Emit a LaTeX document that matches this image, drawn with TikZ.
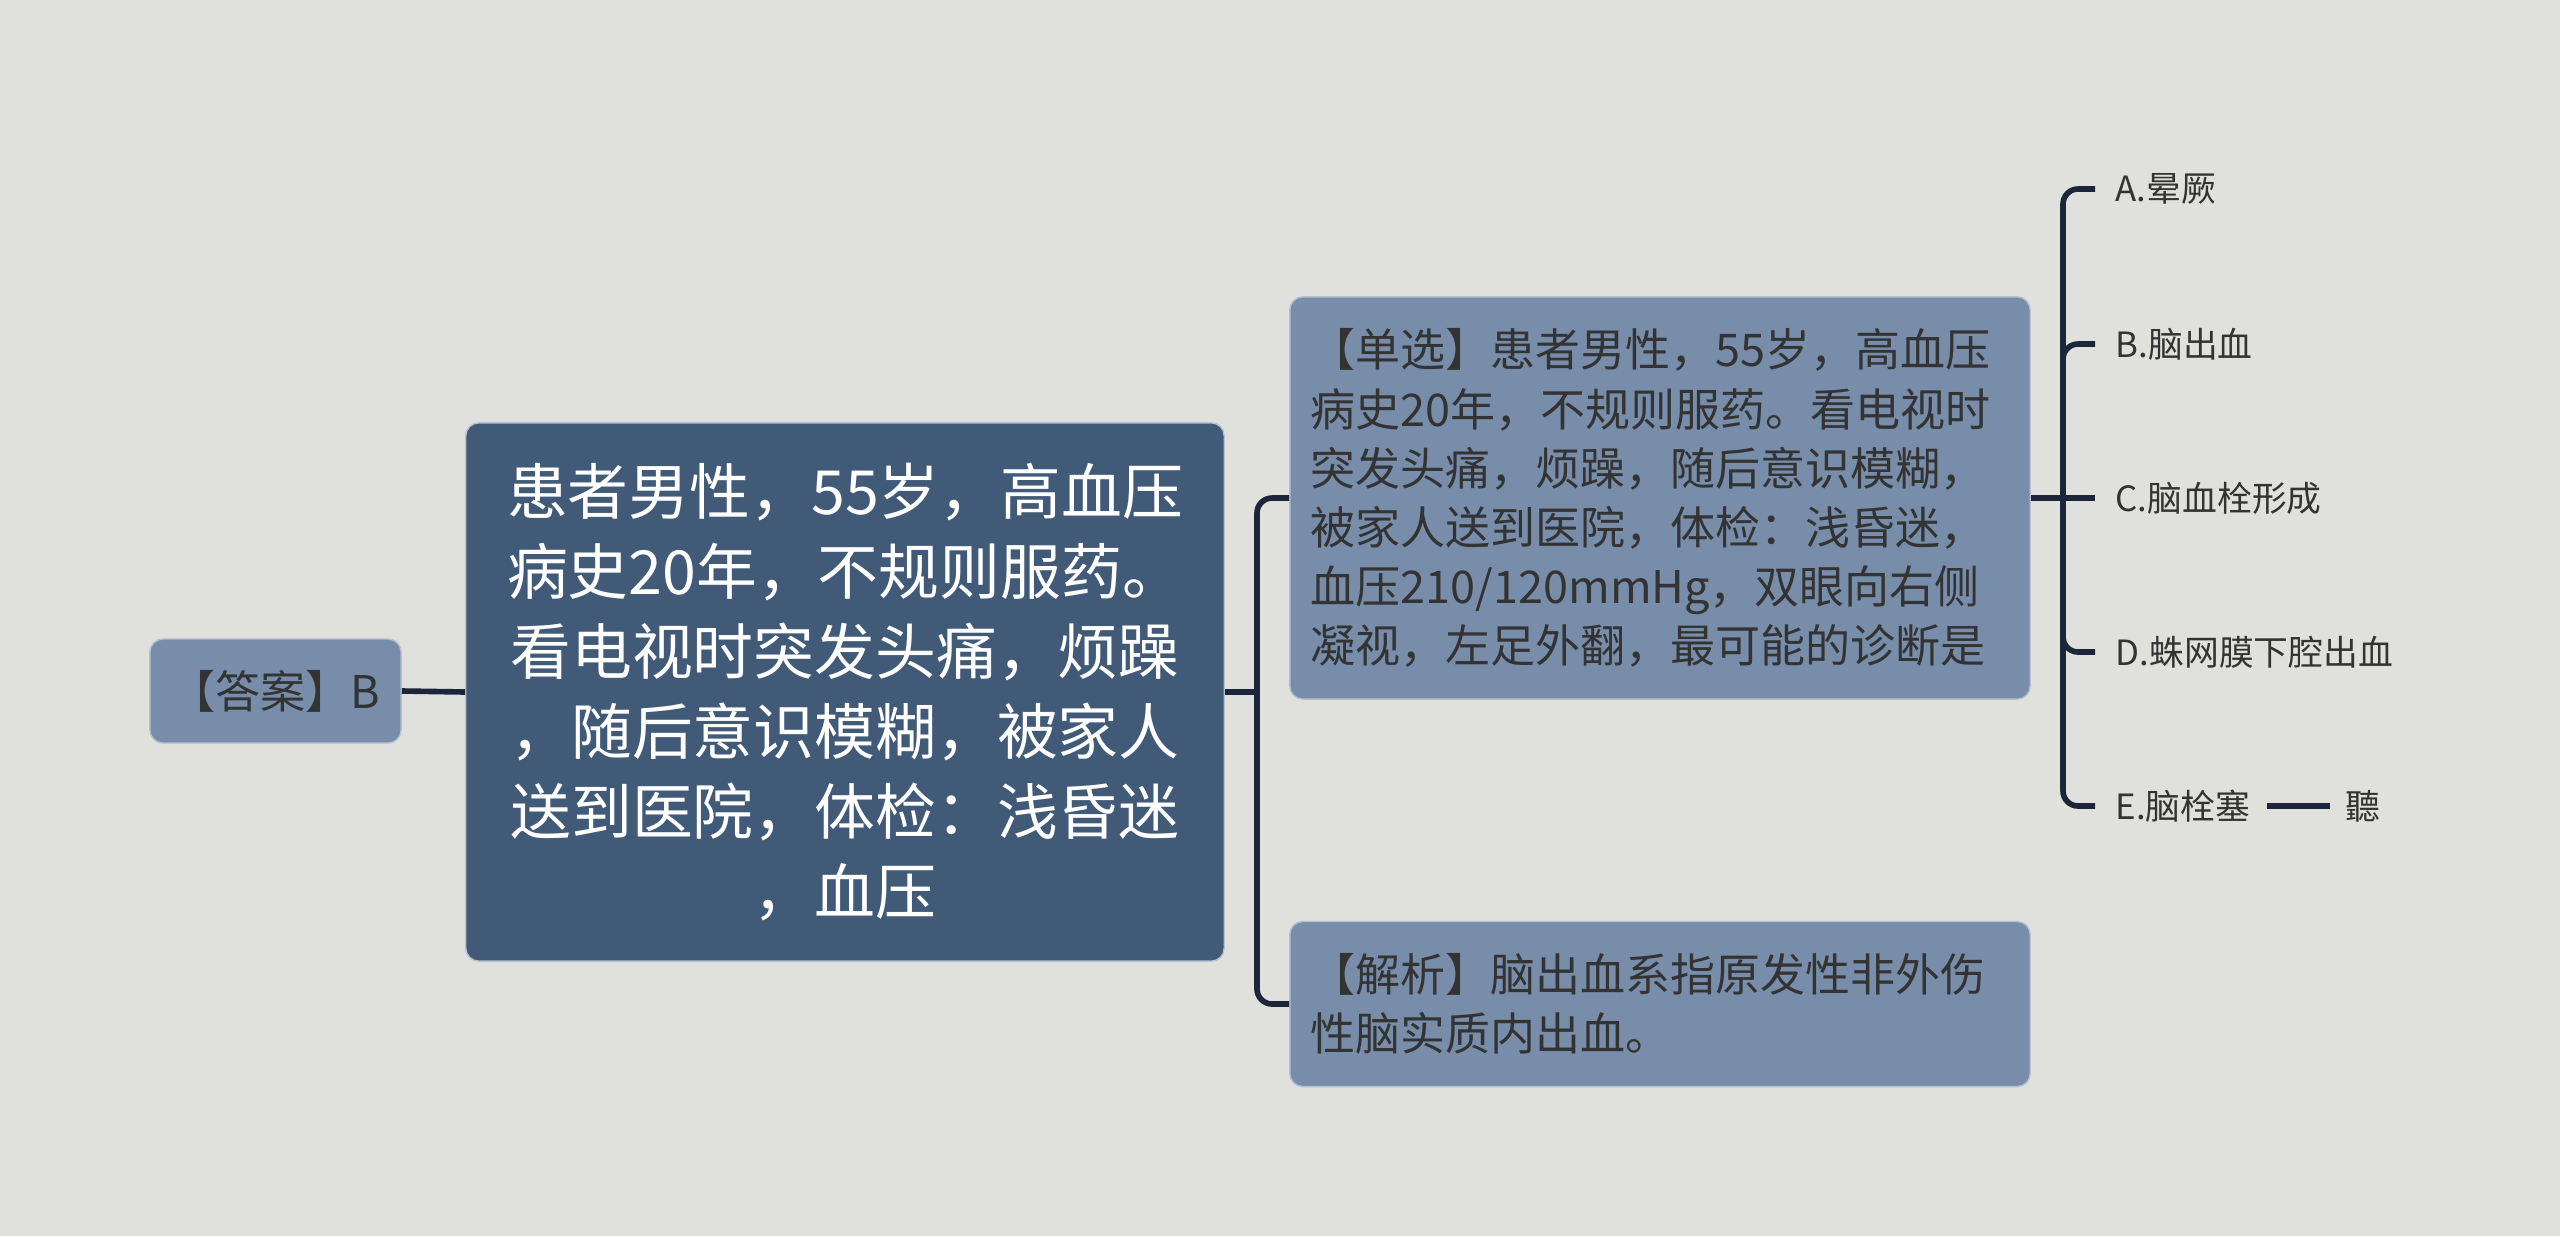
\documentclass[tikz,border=0pt]{standalone}
\usepackage{fontspec}
\setmainfont{Noto Sans CJK SC}
\definecolor{bg}{HTML}{E0E1DD}
\definecolor{darkbox}{HTML}{415A77}
\definecolor{lightbox}{HTML}{778DA9}
\definecolor{linec}{HTML}{1B263B}
\definecolor{txt}{HTML}{333333}
\tikzset{
  conn/.style={draw=linec,line width=1.6pt,rounded corners=0.15cm},
  boxbase/.style={rounded corners=0.13cm,draw=lightbox!55!white,line width=0.4pt},
  mainbox/.style={boxbase,fill=darkbox,text=white,align=center,inner sep=0pt,
    font=\fontsize{17.3}{22.8}\selectfont},
  subbox/.style={boxbase,fill=lightbox,text=txt,align=left,inner sep=0pt,
    font=\fontsize{12.8}{16.8}\selectfont},
  optlabel/.style={text=txt,inner xsep=0.2cm,inner ysep=0pt,anchor=west,
    font=\fontsize{9.9}{12}\selectfont},
}
\begin{document}
\begin{tikzpicture}[x=0.01cm,y=-0.01cm]
\fill[bg] (0,0) rectangle (2560,1236);
\useasboundingbox (0,0) rectangle (2560,1236);

% nodes
\node[subbox,align=center,minimum width=2.51cm,minimum height=1.04cm] (ans) at (275.5,691) {【答案】B};
\node[mainbox,text width=7.58cm,minimum height=5.38cm] (main) at (845,692)
  {患者男性，55岁，高血压\\病史20年，不规则服药。\\看电视时突发头痛，烦躁\\，随后意识模糊，被家人\\送到医院，体检：浅昏迷\\，血压};
\node[subbox,text width=6.98cm,inner xsep=0.21cm,minimum height=4.02cm] (single) at (1660,498)
  {【单选】患者男性，55岁，高血压\\病史20年，不规则服药。看电视时\\突发头痛，烦躁，随后意识模糊，\\被家人送到医院，体检：浅昏迷，\\血压210/120mmHg，双眼向右侧\\凝视，左足外翻，最可能的诊断是};
\node[subbox,text width=6.98cm,inner xsep=0.21cm,minimum height=1.65cm] (anal) at (1660,1004)
  {【解析】脑出血系指原发性非外伤\\性脑实质内出血。};

\node[optlabel] (optA) at (2095,189) {A.晕厥};
\node[optlabel] (optB) at (2095,344) {B.脑出血};
\node[optlabel] (optC) at (2095,498) {C.脑血栓形成};
\node[optlabel] (optD) at (2095,652) {D.蛛网膜下腔出血};
\node[optlabel,inner xsep=0.16cm] (optE) at (2099,806) {E.脑栓塞};
\node[text=txt,inner xsep=0.15cm,inner ysep=0pt,font=\fontsize{9.9}{12}\selectfont] (ting) at (2363,806) {聽};

% connectors
\coordinate (lb) at (1257,692);
\coordinate (rb) at (2063,498);
\draw[conn] (ans.east) -- (main.west);
\draw[conn] (main.east) -- (lb);
\draw[conn] (single.west) -| (lb);
\draw[conn] (anal.west) -| (lb);
\draw[conn] (single.east) -- (optC.west);
\draw[conn] (optA.west) -| (rb);
\draw[conn] (optB.west) -| (rb);
\draw[conn] (optD.west) -| (rb);
\draw[conn] ([xshift=-0.04cm]optE.west) -| (rb);
\draw[conn] (optE.east) -- (ting.west);
\end{tikzpicture}
\end{document}
